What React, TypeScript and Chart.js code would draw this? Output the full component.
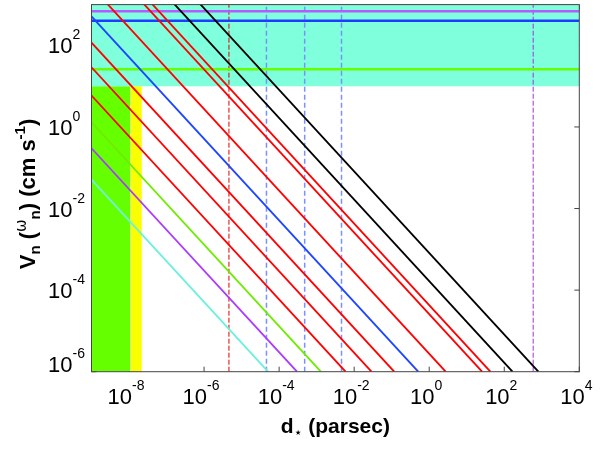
import React, { useEffect, useRef } from 'react';
import { Chart, registerables } from 'chart.js';

Chart.register(...registerables);

const D_MIN = 1e-9;
const D_MAX = 1e4;
const V_MIN = 1e-6;
const V_MAX = 1e3;

// sloped curves: value at the left edge (d = 1e-9 pc) and the distance where each reaches 1e-6
const curveVAtLeft = [0.051, 0.3, 1.3, 5.9, 29, 117, 513, 2750, 25700, 42700, 166000, 813000];
const curveDAtFloor = [5.1e-5, 3.0e-4, 1.3e-3, 5.9e-3, 2.9e-2, 0.117, 0.51, 2.75, 25.7, 42.7, 166, 813];
const curveColors = [
  'rgb(110,240,220)', 'rgb(170,60,255)', 'rgb(110,235,0)', 'rgb(255,0,0)', 'rgb(255,0,0)', 'rgb(255,0,0)',
  'rgb(30,70,255)', 'rgb(255,0,0)', 'rgb(255,0,0)', 'rgb(255,0,0)', 'rgb(0,0,0)', 'rgb(0,0,0)',
];

// horizontal levels
const levelValues = [690, 400, 26];
const levelColors = ['rgb(180,90,255)', 'rgb(30,60,255)', 'rgb(102,255,0)'];

// vertical dashed markers
const markerD = [4.6e-6, 4.6e-5, 4.8e-4, 4.6e-3, 590];
const markerColors = ['rgb(220,0,0)', 'rgb(120,145,255)', 'rgb(120,145,255)', 'rgb(120,145,255)', 'rgb(160,50,230)'];

// shaded regions
const bandLimit = 10;
const greenBandEnd = 1.1e-8;
const yellowBandEnd = 2.2e-8;

const xTickExps = [-8, -6, -4, -2, 0, 2, 4];
const yTickExps = [-6, -4, -2, 0, 2];

const FONT = '"Liberation Sans", Arial, Helvetica, sans-serif';

type Seg = { t: string; font: string; dy: number };

function richWidth(ctx: CanvasRenderingContext2D, segs: Seg[]) {
  let w = 0;
  for (const s of segs) {
    ctx.font = s.font;
    w += ctx.measureText(s.t).width;
  }
  return w;
}

function drawRich(ctx: CanvasRenderingContext2D, segs: Seg[], x: number, y: number) {
  let cx = x;
  for (const s of segs) {
    ctx.font = s.font;
    ctx.fillText(s.t, cx, y + s.dy);
    cx += ctx.measureText(s.t).width;
  }
}

function powSegs(exp: number): Seg[] {
  return [
    { t: '10', font: `22px ${FONT}`, dy: 0 },
    { t: String(exp), font: `14px ${FONT}`, dy: -14 },
  ];
}

const framePlugin = {
  id: 'frame',
  beforeDatasetsDraw(chart: any) {
    const { ctx, chartArea: a, scales } = chart;
    ctx.save();
    ctx.strokeStyle = '#444';
    ctx.lineWidth = 1;
    ctx.beginPath();
    for (const e of xTickExps) {
      const px = scales.x.getPixelForValue(Math.pow(10, e));
      ctx.moveTo(px, a.bottom);
      ctx.lineTo(px, a.bottom - 5);
      ctx.moveTo(px, a.top);
      ctx.lineTo(px, a.top + 5);
    }
    for (const e of yTickExps) {
      const py = scales.y.getPixelForValue(Math.pow(10, e));
      ctx.moveTo(a.left, py);
      ctx.lineTo(a.left + 5, py);
      ctx.moveTo(a.right, py);
      ctx.lineTo(a.right - 5, py);
    }
    ctx.stroke();
    ctx.restore();
  },
  afterDatasetsDraw(chart: any) {
    const { ctx, chartArea: a, scales } = chart;
    ctx.save();
    ctx.strokeStyle = '#444';
    ctx.lineWidth = 1;
    ctx.strokeRect(a.left, a.top, a.right - a.left, a.bottom - a.top);

    ctx.fillStyle = '#000';
    ctx.textBaseline = 'alphabetic';
    ctx.textAlign = 'left';
    for (const e of xTickExps) {
      const px = scales.x.getPixelForValue(Math.pow(10, e));
      const segs = powSegs(e);
      const w = richWidth(ctx, segs);
      drawRich(ctx, segs, px - w / 2 - 3, a.bottom + 32);
    }
    for (const e of yTickExps) {
      const py = scales.y.getPixelForValue(Math.pow(10, e));
      drawRich(ctx, powSegs(e), 48, Math.min(py + 8, a.bottom + 0.5));
    }

    const bold = (s: number) => `bold ${s}px ${FONT}`;
    const xTitle: Seg[] = [
      { t: 'd', font: bold(21), dy: 0 },
      { t: '⋆', font: `14px "DejaVu Sans", ${FONT}`, dy: 4 },
      { t: ' (parsec)', font: bold(21), dy: 0 },
    ];
    const xw = richWidth(ctx, xTitle);
    drawRich(ctx, xTitle, (a.left + a.right) / 2 - xw / 2, 433);

    const yTitle: Seg[] = [
      { t: 'V', font: bold(22), dy: 0 },
      { t: 'n', font: bold(15), dy: 5 },
      { t: ' (', font: bold(22), dy: 0 },
      { t: 'ω', font: `15px "DejaVu Sans", ${FONT}`, dy: -9 },
      { t: 'n', font: bold(15), dy: 5 },
      { t: ') (cm s', font: bold(22), dy: 0 },
      { t: '-1', font: bold(15), dy: -10 },
      { t: ')', font: bold(22), dy: 0 },
    ];
    const yw = richWidth(ctx, yTitle);
    ctx.translate(35, 194);
    ctx.rotate(-Math.PI / 2);
    drawRich(ctx, yTitle, -yw / 2, 0);
    ctx.restore();
  },
};

export default function App() {
  const canvasRef = useRef<HTMLCanvasElement>(null);

  useEffect(() => {
    document.body.style.margin = '0';
    const ctx = canvasRef.current?.getContext('2d');
    if (!ctx) return;

    const bands = [
      {
        data: [{ x: D_MIN, y: bandLimit }, { x: D_MAX, y: bandLimit }],
        fill: 'end',
        backgroundColor: 'rgb(127,255,220)',
      },
      {
        data: [{ x: D_MIN, y: bandLimit }, { x: greenBandEnd, y: bandLimit }],
        fill: 'start',
        backgroundColor: 'rgb(102,255,0)',
      },
      {
        data: [{ x: greenBandEnd, y: bandLimit }, { x: yellowBandEnd, y: bandLimit }],
        fill: 'start',
        backgroundColor: 'rgb(250,255,0)',
      },
    ].map((b) => ({ ...b, borderColor: 'rgba(0,0,0,0)', borderWidth: 0, order: 10 }));

    const markers = markerD.map((d, i) => ({
      data: [{ x: d, y: V_MIN }, { x: d, y: V_MAX }],
      borderColor: markerColors[i],
      borderWidth: i === 0 || i === 4 ? 1 : 1.5,
      borderDash: i === 0 || i === 4 ? [5, 2] : [5, 3],
      fill: false,
      order: 6,
    }));

    const levels = levelValues.map((v, i) => ({
      data: [{ x: D_MIN, y: v }, { x: D_MAX, y: v }],
      borderColor: levelColors[i],
      borderWidth: 2.5,
      fill: false,
      order: 5,
    }));

    const curves = curveVAtLeft.map((v, i) => ({
      data: [{ x: D_MIN, y: v }, { x: curveDAtFloor[i], y: V_MIN }],
      borderColor: curveColors[i],
      borderWidth: 1.8,
      fill: false,
      order: 1,
    }));

    const chart = new Chart(ctx, {
      type: 'line',
      data: { datasets: [...curves, ...levels, ...markers, ...bands] as any },
      options: {
        animation: false,
        responsive: true,
        maintainAspectRatio: false,
        layout: { padding: { left: 91.5, right: 21.7, top: 4.6, bottom: 77.3 } },
        elements: { point: { radius: 0 }, line: { tension: 0 } },
        plugins: {
          legend: { display: false },
          tooltip: { enabled: false },
        },
        scales: {
          x: { type: 'logarithmic', min: D_MIN, max: D_MAX, display: false },
          y: { type: 'logarithmic', min: V_MIN, max: V_MAX, display: false },
        },
      },
      plugins: [framePlugin],
    });

    return () => {
      chart.destroy();
    };
  }, []);

  return (
    <div style={{ position: 'relative', width: 601, height: 449 }}>
      <canvas ref={canvasRef} />
    </div>
  );
}
